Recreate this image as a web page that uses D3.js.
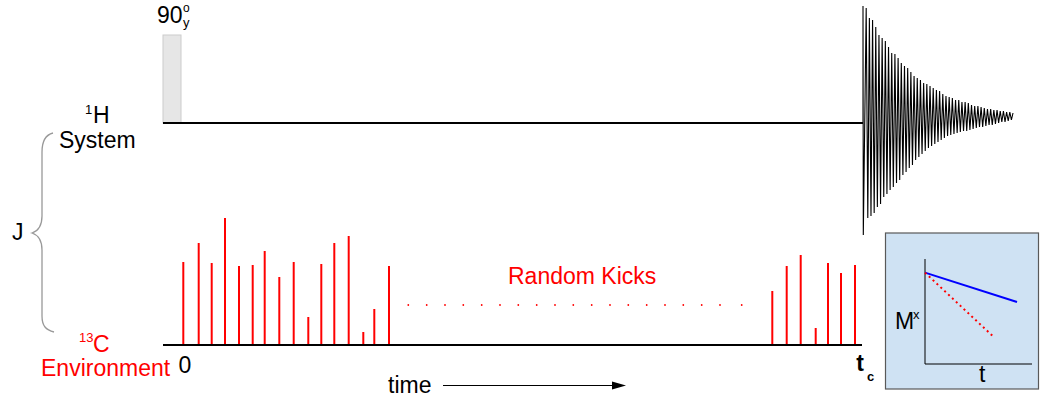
<!DOCTYPE html>
<html>
<head>
<meta charset="utf-8">
<script src="https://cdn.jsdelivr.net/npm/d3@7"></script>
<style>
  body { margin: 0; background: #fff; }
  svg { display: block; font-family: "Liberation Sans", Arial, sans-serif; }
</style>
</head>
<body>
<script>
// time axis runs 0..700 (arbitrary units, pulse starts at 0)
var kickTimesLeft = [20.3, 35.7, 48.7, 62, 76, 89.7, 101.7, 116.3, 130.7, 145.3, 158.3, 171.3, 185.7, 200.3, 211.3, 226];
var kickHeightsLeft = [83, 102, 82, 127, 79, 80, 94, 68, 83, 28, 81, 102, 109, 13, 36, 79];
var kickTimesRight = [609.3, 623.7, 637.7, 652.7, 665, 678, 692];
var kickHeightsRight = [54, 79, 90, 17, 82, 72, 80];

// FID: upper and lower extreme of each cycle (signal units above the 1H line)
var fidPeaks = [117, 115, 105, 103, 96, 88, 85, 82, 76, 70, 69, 65, 60, 57, 55, 51, 47, 45, 43, 40, 39, 37, 35, 33,
  32, 29, 27, 26, 25, 23, 23, 21, 21, 20, 18, 17, 17, 16, 15, 14, 14, 13, 13, 12, 12, 11, 11, 10];
var fidTroughs = [-112, -95, -93, -90, -84, -81, -74, -71, -67, -64, -60, -57, -52, -49, -45, -42, -37, -34, -31, -28,
  -25, -23, -21, -19, -17, -15, -13, -12, -11, -10, -9, -8, -8, -7, -6, -5, -4, -4, -3, -2, -2, -1, 0, 1, 1, 2, 3, 4];

var pulseStart = 0, pulseEnd = 18, pulseHeight = 88;
var timeZero = 22, timeEnd = 697;
var dotTimes = [245.3, 263.7, 282, 300.3, 318.7, 337, 355.3, 373.7, 392, 410.3, 428.7, 447, 465.3, 483.7, 502, 520.3, 538.7, 557, 578.7];

// inset: Mx decay
var insetT = [0, 0.86];
var insetBlue = [0.87, 0.59];
var insetRedT = [0, 0.65];
var insetRed = [0.87, 0.25];

var W = 1040, H = 400;
var svg = d3.select("body").append("svg").attr("width", W).attr("height", H);

var x = d3.scaleLinear().domain([0, 700]).range([163, 863]);
var yH = d3.scaleLinear().domain([-120, 120]).range([243, 3]);   // 0 -> 123
var yC = d3.scaleLinear().domain([0, 130]).range([345, 215]);

// 90 pulse
svg.append("rect")
  .attr("x", x(pulseStart)).attr("y", yH(pulseHeight))
  .attr("width", x(pulseEnd) - x(pulseStart)).attr("height", yH(0) - yH(pulseHeight))
  .attr("fill", "#e6e6e6").attr("stroke", "#cccccc").attr("stroke-width", 1);

// 1H line
svg.append("line")
  .attr("x1", x(0)).attr("x2", x(700)).attr("y1", yH(0)).attr("y2", yH(0))
  .attr("stroke", "#000").attr("stroke-width", 2);

// FID
var xF = d3.scaleLinear().domain([0, fidPeaks.length - 1]).range([863, 1013]);
var fidPts = [[xF(0), yH(0)]];
fidPeaks.forEach(function (p, i) {
  fidPts.push([xF(i), yH(p)]);
  fidPts.push([xF(i + 0.5), yH(fidTroughs[i])]);
});
fidPts[2][0] = xF(0) + 0.3;
svg.append("path")
  .attr("d", d3.line()(fidPts.slice(0, fidPts.length - 1)))
  .attr("fill", "none").attr("stroke", "#000").attr("stroke-width", 1.1);

// 13C line
svg.append("line")
  .attr("x1", x(0)).attr("x2", x(699)).attr("y1", yC(0)).attr("y2", yC(0))
  .attr("stroke", "#000").attr("stroke-width", 2);

var kicks = kickTimesLeft.map(function (t, i) { return { t: t, h: kickHeightsLeft[i] }; })
  .concat(kickTimesRight.map(function (t, i) { return { t: t, h: kickHeightsRight[i] }; }));
svg.selectAll(".kick").data(kicks).enter().append("line")
  .attr("class", "kick")
  .attr("x1", function (d) { return x(d.t); }).attr("x2", function (d) { return x(d.t); })
  .attr("y1", yC(0) - 1).attr("y2", function (d) { return yC(d.h); })
  .attr("stroke", "#ff0000").attr("stroke-width", 2);

svg.selectAll(".dot").data(dotTimes).enter().append("circle")
  .attr("class", "dot")
  .attr("cx", function (d) { return x(d); }).attr("cy", 305)
  .attr("r", 0.9).attr("fill", "#ff0000");

// brace
svg.append("path")
  .attr("d", "M53,133 C45,135 42,142 42,152 L42,216 C42,226 38,231 32,233 C38,235 42,240 42,250 L42,316 C42,326 46,330 54,332")
  .attr("fill", "none").attr("stroke", "#999").attr("stroke-width", 1.3);

function txt(s, px, py, size, col, weight) {
  return svg.append("text").attr("x", px).attr("y", py)
    .attr("font-size", size).attr("fill", col || "#000")
    .attr("font-weight", weight || "normal").text(s);
}

txt("90", 157, 23, 23);
txt("o", 183, 12, 12);
txt("y", 183, 27, 13);
txt("1", 85, 114, 13);
txt("H", 93, 123, 23);
txt("System", 59, 148, 23);
txt("J", 12, 240, 23);
txt("13", 79, 342, 13, "#ff0000");
txt("C", 93, 352, 23, "#ff0000");
txt("Environment", 41, 376, 23, "#ff0000");
txt("0", x(timeZero), 373, 23).attr("text-anchor", "middle");
txt("Random Kicks", 508, 284, 23, "#ff0000");
txt("time", 388, 393, 23);
txt("t", x(timeEnd), 371, 23, "#000", "bold").attr("text-anchor", "middle");
txt("c", 867, 381, 13, "#000", "bold");

// time arrow
svg.append("line").attr("x1", 443).attr("x2", 614).attr("y1", 385.5).attr("y2", 385.5)
  .attr("stroke", "#000").attr("stroke-width", 1);
svg.append("path").attr("d", "M612,381.5 L626,385.5 L612,389.5 Z").attr("fill", "#000");

// inset
var g = svg.append("g");
g.append("rect").attr("x", 885.5).attr("y", 233).attr("width", 153).attr("height", 156)
  .attr("fill", "#cfe2f3").attr("stroke", "#595959").attr("stroke-width", 1.2);
var xi = d3.scaleLinear().domain([0, 1]).range([925, 1032]);
var yi = d3.scaleLinear().domain([0, 1]).range([364, 259]);
g.append("path").attr("d", d3.line()([[xi(0), yi(1)], [xi(0), yi(0)], [xi(1), yi(0)]]))
  .attr("fill", "none").attr("stroke", "#000").attr("stroke-width", 1);
g.append("path")
  .attr("d", d3.line()(insetT.map(function (t, i) { return [xi(t), yi(insetBlue[i])]; })))
  .attr("stroke", "#0000ff").attr("stroke-width", 2);
g.append("path")
  .attr("d", d3.line()(insetRedT.map(function (t, i) { return [xi(t), yi(insetRed[i])]; })))
  .attr("stroke", "#ff0000").attr("stroke-width", 2).attr("stroke-dasharray", "2,3.3");
txt("M", 895, 329, 23);
txt("x", 913, 319, 13);
txt("t", 979, 382, 23);
</script>
</body>
</html>
